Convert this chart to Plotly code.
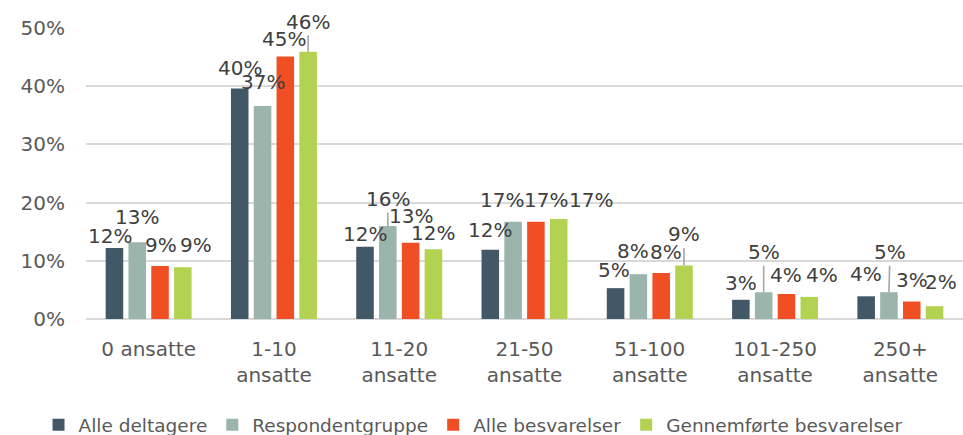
import plotly.graph_objects as go

categories = ["0 ansatte", "1-10<br>ansatte", "11-20<br>ansatte", "21-50<br>ansatte",
              "51-100<br>ansatte", "101-250<br>ansatte", "250+<br>ansatte"]
series_names = ["Alle deltagere", "Respondentgruppe", "Alle besvarelser", "Gennemførte besvarelser"]
alle_deltagere = [12.2, 39.6, 12.4, 11.9, 5.3, 3.3, 3.9]
respondentgruppe = [13.2, 36.6, 16.0, 16.7, 7.7, 4.6, 4.6]
alle_besvarelser = [9.1, 45.1, 13.1, 16.7, 7.9, 4.3, 3.0]
gennemforte = [8.9, 45.9, 12.0, 17.2, 9.2, 3.8, 2.2]
y_ticks = [0, 10, 20, 30, 40, 50]

colors = ["#435867", "#9bb5ad", "#f04e23", "#b3d252"]
series_values = [alle_deltagere, respondentgruppe, alle_besvarelser, gennemforte]

# label placement tweaks (pixels): (dx, up, leader)
label_style = [
    [(-4, 12, False), (0, 21, False), (0, 13, False), (0, 20, False), (-2, 18, False), (0, 17, False), (0, 22, False)],
    [(0, 25, False), (0, 24, False), (0, 27, True), (-11, 22, False), (-5, 23, False), (0, 40, True), (1, 40, True)],
    [(1, 21, False), (-1, 18, False), (0, 27, False), (10, 22, False), (5, 21, False), (0, 19, False), (0, 22, False)],
    [(13, 22, False), (0, 30, True), (0, 16, False), (32, 19, False), (0, 31, True), (13, 22, False), (6, 24, False)],
]

W, H = 963, 435
ML, MR, MT, MB = 86, 0, 28, 116
BARGAP, GROUPGAP = 0.272, 0.23
cat_w = (W - ML - MR) / len(categories)
slot = cat_w * (1 - BARGAP) / len(series_values)

label_font = dict(family="DejaVu Sans", size=20, color="#404040")

fig = go.Figure()
annotations = []
for i, (name, vals, col) in enumerate(zip(series_names, series_values, colors)):
    fig.add_trace(go.Bar(name=name, x=categories, y=vals, marker_color=col,
                         marker_line_width=0))
    off = (i - 1.5) * slot
    for j, (c, v) in enumerate(zip(categories, vals)):
        dx, up, leader = label_style[i][j]
        txt = f"{v:.0f}%"
        if leader:
            annotations.append(dict(x=c, y=v, xref="x", yref="y", text=txt, xshift=off,
                                    showarrow=True, arrowhead=0, arrowwidth=1.6,
                                    arrowcolor="#a6a6a6", ax=dx, ay=-up, standoff=0,
                                    font=label_font))
        else:
            annotations.append(dict(x=c, y=v, xref="x", yref="y", text=txt,
                                    xshift=off + dx, yshift=up, showarrow=False,
                                    font=label_font))

fig.update_layout(
    width=W, height=H,
    margin=dict(l=ML, r=MR, t=MT, b=MB, pad=0, autoexpand=False),
    paper_bgcolor="white", plot_bgcolor="white",
    barmode="group", bargap=BARGAP, bargroupgap=GROUPGAP,
    font=dict(family="DejaVu Sans", color="#595959"),
    annotations=annotations,
    legend=dict(orientation="h", xref="container", x=0.04, xanchor="left",
                yref="paper", y=-0.30, yanchor="top",
                font=dict(family="DejaVu Sans", size=18.5, color="#595959"),
                itemwidth=30, traceorder="normal"),
    xaxis=dict(tickfont=dict(size=20, color="#595959"), showline=False, ticks="",
               ticklabelstandoff=16),
    yaxis=dict(range=[0, 50], tickvals=y_ticks, ticktext=[f"{t}%" for t in y_ticks],
               tickfont=dict(size=20, color="#595959"), showgrid=True,
               gridcolor="#d9d9d9", gridwidth=2, zeroline=True, zerolinecolor="#d9d9d9",
               zerolinewidth=2, showline=False, ticks="", ticklabelstandoff=20),
)

fig.write_html("out.html", post_script="document.body.style.margin='0';",
               config={"displayModeBar": False})
